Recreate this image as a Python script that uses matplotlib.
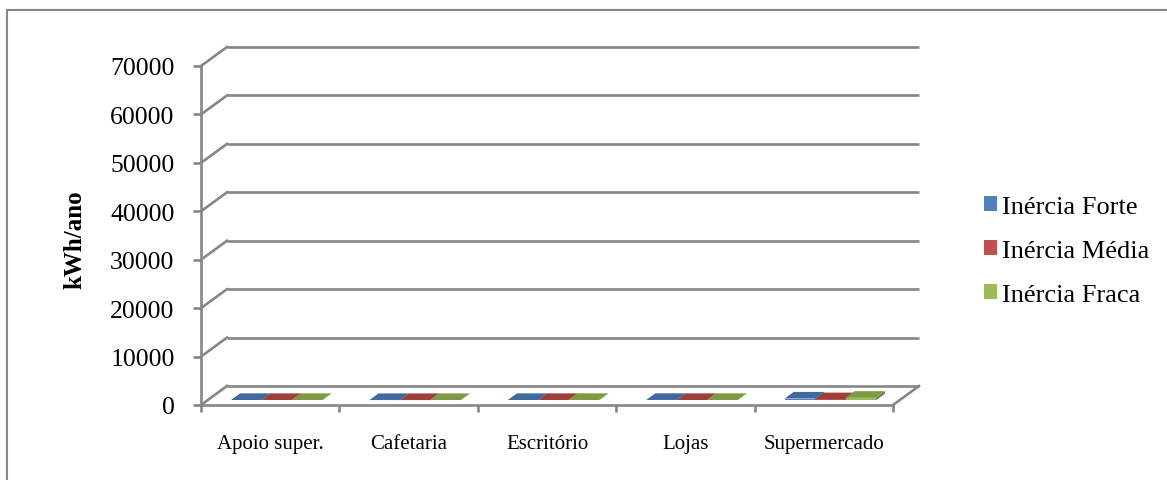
import matplotlib.pyplot as plt
from matplotlib.patches import Patch, Polygon, Rectangle

plt.rcParams['font.family'] = ['Liberation Serif', 'DejaVu Serif']

categories = ['Apoio super.', 'Cafetaria', 'Escritório', 'Lojas', 'Supermercado']
series = ['Inércia Forte', 'Inércia Média', 'Inércia Fraca']
forte = [50, 40, 50, 60, 350]
media = [50, 40, 50, 50, 200]
fraca = [50, 40, 50, 50, 500]
yticks = [0, 10000, 20000, 30000, 40000, 50000, 60000, 70000]

face_colors = ['#4F81BD', '#C0504D', '#9BBB59']
top_colors = ['#3F6A9E', '#9E3F3C', '#7E9A45']
side_colors = ['#2F5582', '#7F3330', '#64803A']
grid_color = '#868686'

W, H = 1167, 481
fig = plt.figure(figsize=(W / 100, H / 100), dpi=100)

# front plane of the pseudo-3D box
x0, x1 = 201, 893
y0, y1 = 406, 67
ax = fig.add_axes([x0 / W, 1 - y0 / H, (x1 - x0) / W, (y0 - y1) / H])
ax.set_xlim(0, len(categories))
ax.set_ylim(0, 70000)
ax.patch.set_visible(False)

# oblique depth offset in data units (26 px right, 19 px up)
DX = 26 / (x1 - x0) * len(categories)
DY = 19 / (y0 - y1) * 70000

for s in ['top', 'right']:
    ax.spines[s].set_visible(False)
for s in ['left', 'bottom']:
    ax.spines[s].set_color(grid_color)
    ax.spines[s].set_linewidth(1.9)

n = len(categories)
# back wall gridlines and side diagonals
for t in yticks:
    ax.plot([DX, n + DX], [t + DY, t + DY], color=grid_color, lw=1.9,
            clip_on=False, solid_capstyle='butt')
    ax.plot([0, DX], [t, t + DY], color=grid_color, lw=1.9, clip_on=False)
# right edge of the floor
ax.plot([n, n + DX], [0, DY], color=grid_color, lw=1.9, clip_on=False)

# bars: three per category, standing in the middle of the floor depth
d0, d1 = 0.25, 0.6
group = 0.66
bw = group / 3
for i, vals in enumerate([forte, media, fraca]):
    for c, v in enumerate(vals):
        xl = c + (1 - group) / 2 + i * bw
        fx, fy = xl + d0 * DX, d0 * DY
        bx, by = xl + d1 * DX, d1 * DY
        side = Polygon([(fx + bw, fy), (fx + bw, fy + v), (bx + bw, by + v),
                        (bx + bw, by)], closed=True, fc=side_colors[i],
                       ec='none', zorder=3)
        top = Polygon([(fx, fy + v), (fx + bw, fy + v), (bx + bw, by + v),
                       (bx, by + v)], closed=True, fc=top_colors[i],
                      ec='none', zorder=3)
        ax.add_patch(side)
        ax.add_patch(top)
        ax.bar(fx, v, width=bw, bottom=fy, align='edge',
               color=face_colors[i], zorder=3)

ax.set_yticks(yticks)
ax.set_yticklabels([str(t) for t in yticks])
ax.tick_params(axis='y', direction='out', length=6, width=1.9,
               color=grid_color, labelsize=18.5, pad=13)
ax.set_xticks(range(n + 1))
ax.set_xticklabels([])
ax.tick_params(axis='x', which='major', direction='out', length=5,
               width=1.9, color=grid_color)
ax.set_xticks([c + 0.5 for c in range(n)], minor=True)
ax.set_xticklabels(categories, minor=True)
ax.tick_params(axis='x', which='minor', length=0, labelsize=15, pad=21)

fig.text(75 / W, 1 - 240 / H, 'kWh/ano', rotation=90, ha='center',
         va='center', fontsize=18, fontweight='bold')

handles = [Patch(facecolor=c, edgecolor='none') for c in face_colors]
fig.legend(handles, series, loc='center left',
           bbox_to_anchor=(984 / W, 1 - 252 / H), frameon=False,
           fontsize=19, handlelength=0.5, handleheight=0.5,
           handletextpad=0.2, labelspacing=0.83, borderpad=0,
           borderaxespad=0)

# chart area border, running off the right and bottom edges
fig.patches.append(Rectangle((7 / W, -0.1), 1.2, 1.1 - 11 / H,
                             transform=fig.transFigure, fill=False,
                             ec=grid_color, lw=1.5))

fig.savefig('out.png', dpi=100)
